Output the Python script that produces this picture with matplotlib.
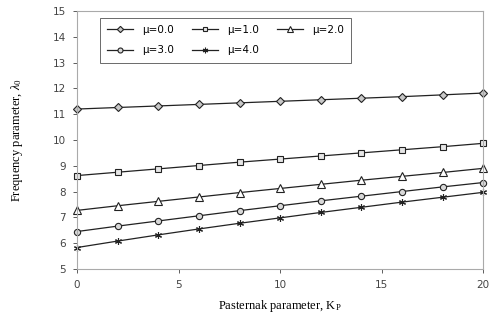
import matplotlib
matplotlib.use("Agg")
import matplotlib.pyplot as plt

kp = [0, 2, 4, 6, 8, 10, 12, 14, 16, 18, 20]
mu_labels = ["\u03bc=0.0", "\u03bc=1.0", "\u03bc=2.0", "\u03bc=3.0", "\u03bc=4.0"]
lam_mu0 = [11.20, 11.26, 11.32, 11.38, 11.44, 11.50, 11.56, 11.62, 11.68, 11.75, 11.82]
lam_mu1 = [8.62, 8.75, 8.88, 9.01, 9.14, 9.26, 9.38, 9.50, 9.62, 9.74, 9.87]
lam_mu2 = [7.27, 7.45, 7.62, 7.79, 7.96, 8.12, 8.28, 8.44, 8.59, 8.74, 8.90]
lam_mu3 = [6.45, 6.66, 6.86, 7.06, 7.26, 7.45, 7.64, 7.82, 8.00, 8.18, 8.35]
lam_mu4 = [5.83, 6.08, 6.32, 6.55, 6.77, 6.98, 7.19, 7.39, 7.59, 7.78, 7.97]

series = [lam_mu0, lam_mu1, lam_mu2, lam_mu3, lam_mu4]
markers = ["D", "s", "^", "o", (6, 2, 0)]
msizes = [4, 4, 6, 4.5, 5]
faces = ["#c8c8c8", "#e6e6e6", "white", "#d8d8d8", "#333333"]

plt.rcParams["mathtext.fontset"] = "custom"
plt.rcParams["mathtext.rm"] = "Liberation Serif"
plt.rcParams["mathtext.it"] = "Liberation Serif:italic"

fig = plt.figure(figsize=(4.91, 3.16), dpi=100)
ax = fig.add_axes([0.157, 0.149, 0.827, 0.816])

handles = []
for y, m, ms, fc, lab in zip(series, markers, msizes, faces, mu_labels):
    h, = ax.plot(kp, y, color="#222222", lw=0.9, marker=m, ms=ms,
                 mfc=fc, mec="#222222", mew=0.8, label=lab, clip_on=False)
    handles.append(h)

ax.set_xlim(0, 20)
ax.set_ylim(5, 15)
ax.set_xticks([0, 5, 10, 15, 20])
ax.set_yticks(range(5, 16))
ax.tick_params(labelsize=7.5, colors="#444444", length=3, width=0.6, pad=5)
for s in ax.spines.values():
    s.set_color("#aaaaaa")
    s.set_linewidth(0.8)

ax.set_xlabel("Pasternak parameter, K$_\\mathregular{P}$", family="Liberation Serif",
              fontsize=9, labelpad=6)
ax.set_ylabel("Frequency parameter, $\\lambda_0$", family="Liberation Serif",
              fontsize=9, labelpad=20)

order = [0, 3, 1, 4, 2]
leg = ax.legend([handles[i] for i in order], [mu_labels[i] for i in order],
                ncol=3, loc="upper left", bbox_to_anchor=(0.044, 0.995),
                fontsize=7.5, frameon=True, fancybox=False, edgecolor="#444444",
                borderpad=0.7, columnspacing=1.8, handlelength=2.5,
                labelspacing=1.0, markerscale=0.8)
leg.get_frame().set_linewidth(0.7)

fig.savefig("out.png", dpi=100)
